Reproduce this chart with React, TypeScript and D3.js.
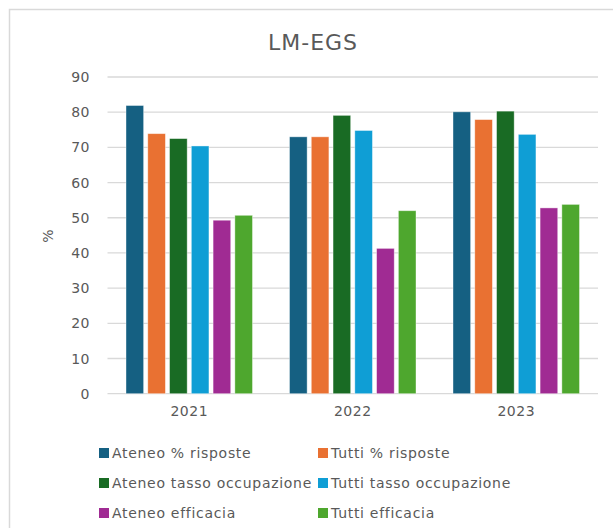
import React from "react";
import * as d3 from "d3";

const years = ["2021", "2022", "2023"];
const seriesNames = [
  "Ateneo % risposte",
  "Tutti % risposte",
  "Ateneo tasso occupazione",
  "Tutti tasso occupazione",
  "Ateneo efficacia",
  "Tutti efficacia",
];
const seriesColors = ["#156082", "#E97132", "#196B24", "#0F9ED5", "#A02B93", "#4EA72E"];
const ateneoRisposte = [81.9, 73.0, 80.1];
const tuttiRisposte = [73.9, 73.0, 77.9];
const ateneoOccupazione = [72.5, 79.1, 80.3];
const tuttiOccupazione = [70.4, 74.8, 73.7];
const ateneoEfficacia = [49.3, 41.3, 52.8];
const tuttiEfficacia = [50.7, 52.0, 53.8];
const yTicks = [0, 10, 20, 30, 40, 50, 60, 70, 80, 90];

const seriesValues = [
  ateneoRisposte,
  tuttiRisposte,
  ateneoOccupazione,
  tuttiOccupazione,
  ateneoEfficacia,
  tuttiEfficacia,
];

const FONT = "'DejaVu Sans', sans-serif";
const TEXT = "#595959";

export default function App() {
  const W = 613;
  const H = 528;
  const left = 107.5;
  const right = 598;
  const top = 77;
  const bottom = 393.7;

  const x0 = d3.scaleBand<string>().domain(years).range([left, right]).paddingInner(0).paddingOuter(0);
  const x1 = d3
    .scaleBand<number>()
    .domain(d3.range(seriesNames.length))
    .range([18.5, x0.bandwidth() - 18.5])
    .paddingInner(0.19);
  const y = d3.scaleLinear().domain([0, 90]).range([bottom, top]);

  const legendRows = [453, 483, 513];
  const legendCols = [99, 318];

  return (
    <svg width={W} height={H} style={{ position: "absolute", left: 0, top: 0 }}>
      <rect x={0} y={0} width={W} height={H} fill="#fff" />
      <rect x={9.5} y={9.5} width={W + 10} height={H + 10} fill="#fff" stroke="#d9d9d9" strokeWidth={1.5} />
      <text x={313} y={50} textAnchor="middle" fontFamily={FONT} fontSize={22} letterSpacing={1} fill={TEXT}>
        LM-EGS
      </text>
      {yTicks.map((t) => (
        <g key={t}>
          <line x1={left} x2={right} y1={y(t)} y2={y(t)} stroke="#d9d9d9" strokeWidth={1.3} />
          <text x={90} y={y(t) + 5} textAnchor="end" fontFamily={FONT} fontSize={14} letterSpacing={0.5} fill={TEXT}>
            {t}
          </text>
        </g>
      ))}
      <text
        transform={`translate(53,236) rotate(-90)`}
        textAnchor="middle"
        fontFamily={FONT}
        fontSize={14}
        fill={TEXT}
      >
        %
      </text>
      {years.map((yr, i) => (
        <g key={yr} transform={`translate(${x0(yr)},0)`}>
          {seriesValues.map((vals, s) => (
            <rect
              key={s}
              x={x1(s)}
              y={y(vals[i])}
              width={x1.bandwidth()}
              height={bottom - y(vals[i])}
              fill={seriesColors[s]}
              stroke="#ffffff"
              strokeOpacity={0.5}
              strokeWidth={0.8}
            />
          ))}
          <text
            x={x0.bandwidth() / 2}
            y={416}
            textAnchor="middle"
            fontFamily={FONT}
            fontSize={14}
            letterSpacing={0.5}
            fill={TEXT}
          >
            {yr}
          </text>
        </g>
      ))}
      {seriesNames.map((name, s) => {
        const cx = legendCols[s % 2];
        const cy = legendRows[Math.floor(s / 2)];
        return (
          <g key={name}>
            <rect x={cx} y={cy - 5} width={10} height={10} fill={seriesColors[s]} />
            <text x={cx + 13} y={cy + 5} fontFamily={FONT} fontSize={14} letterSpacing={0.7} fill={TEXT}>
              {name}
            </text>
          </g>
        );
      })}
    </svg>
  );
}
